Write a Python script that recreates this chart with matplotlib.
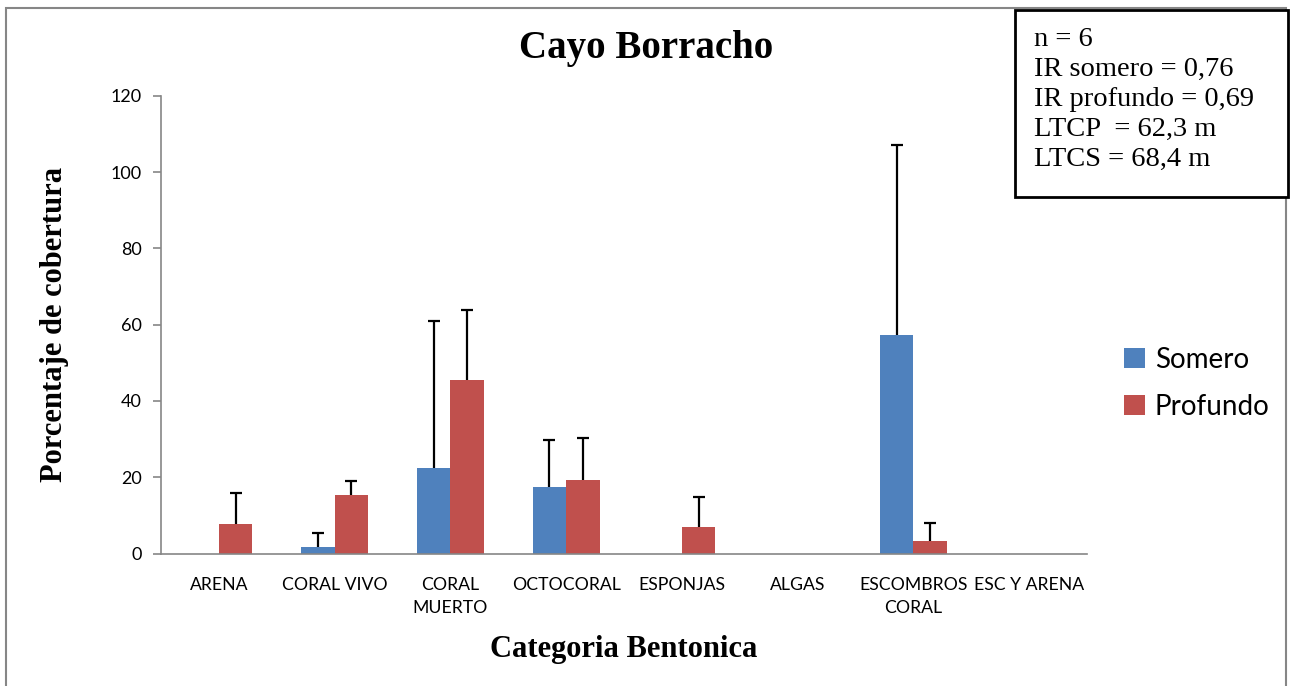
import matplotlib.pyplot as plt
import matplotlib.patches as mpatches
import numpy as np

# Cobertura bentonica por categoria, Cayo Borracho
categorias = ["ARENA", "CORAL VIVO", "CORAL\nMUERTO", "OCTOCORAL", "ESPONJAS",
              "ALGAS", "ESCOMBROS\nCORAL", "ESC Y ARENA"]
somero = [0, 1.8, 22.3, 17.5, 0, 0, 57.3, 0]
somero_de = [0, 3.6, 38.6, 12.2, 0, 0, 49.8, 0]
profundo = [7.7, 15.3, 45.4, 19.3, 7.0, 0, 3.4, 0]
profundo_de = [8.2, 3.7, 18.5, 11.0, 7.8, 0, 4.5, 0]
resumen = ["n = 6", "IR somero = 0,76", "IR profundo = 0,69",
           "LTCP  = 62,3 m", "LTCS = 68,4 m"]

azul = "#4F81BD"
rojo = "#C0504D"
gris = "#868686"
sans = ["Lato", "DejaVu Sans"]
serif = ["Liberation Serif", "DejaVu Serif"]

fig = plt.figure(figsize=(12.93, 6.86), dpi=100)
ax = fig.add_axes([0.1245, 0.1931, 0.7162, 0.6674])

x = np.arange(len(categorias))
w = 0.29
ax.bar(x - w / 2, somero, w, color=azul, label="Somero", zorder=2)
ax.bar(x + w / 2, profundo, w, color=rojo, label="Profundo", zorder=2)

# barras de error solo hacia arriba, con tope solo en el extremo superior
for desp, media, de in [(-w / 2, somero, somero_de), (w / 2, profundo, profundo_de)]:
    idx = [i for i in range(len(x)) if de[i] > 0]
    xs = x[idx] + desp
    bajo = np.array([media[i] for i in idx])
    alto = bajo + np.array([de[i] for i in idx])
    ax.vlines(xs, bajo, alto, color="black", linewidth=1.6, zorder=3)
    ax.plot(xs, alto, linestyle="none", marker="_", markersize=8,
            markeredgewidth=1.6, color="black", zorder=3)

ax.set_xlim(-0.5, len(categorias) - 0.5)
ax.set_ylim(0, 120)
ax.set_yticks(range(0, 121, 20))
ax.set_xticks(x)
ax.set_xticklabels(categorias, fontsize=12.7, family=sans, linespacing=1.5)
ax.tick_params(axis="x", length=0, pad=17)
ax.tick_params(axis="y", length=6, color=gris, width=1.2, labelsize=13, pad=8)
for lab in ax.get_yticklabels():
    lab.set_family(sans)
for s in ["top", "right"]:
    ax.spines[s].set_visible(False)
for s in ["left", "bottom"]:
    ax.spines[s].set_color(gris)
    ax.spines[s].set_linewidth(1.2)

ax.set_ylabel("Porcentaje de cobertura", fontsize=22, fontweight="bold",
              family=serif, labelpad=30)
ax.set_xlabel("Categoria Bentonica", fontsize=22, fontweight="bold",
              family=serif, labelpad=14)
fig.text(0.4995, 0.929, "Cayo Borracho", ha="center", va="center",
         fontsize=28, fontweight="bold", family=serif)

leg = ax.legend(loc="center left", bbox_to_anchor=(1.013, 0.372), frameon=False,
                prop={"family": sans, "size": 20}, handlelength=0.75,
                handleheight=0.7, handletextpad=0.35, labelspacing=0.75)

# marco exterior del grafico
fig.add_artist(mpatches.Rectangle((6 / 1293, -0.05), 1280 / 1293, 1.05 - 8 / 686,
                                  transform=fig.transFigure, fill=False,
                                  edgecolor=gris, linewidth=1.5))

# cuadro de resumen
caja = mpatches.Rectangle((1015 / 1293, 1 - 197 / 686), 273 / 1293, 187 / 686,
                          transform=fig.transFigure, facecolor="white",
                          edgecolor="black", linewidth=2)
fig.add_artist(caja)
fig.text(1034 / 1293, 1 - 27 / 686, "\n".join(resumen), ha="left", va="top",
         fontsize=20.5, family=serif, linespacing=1.26)

fig.savefig("out.png", dpi=100)
